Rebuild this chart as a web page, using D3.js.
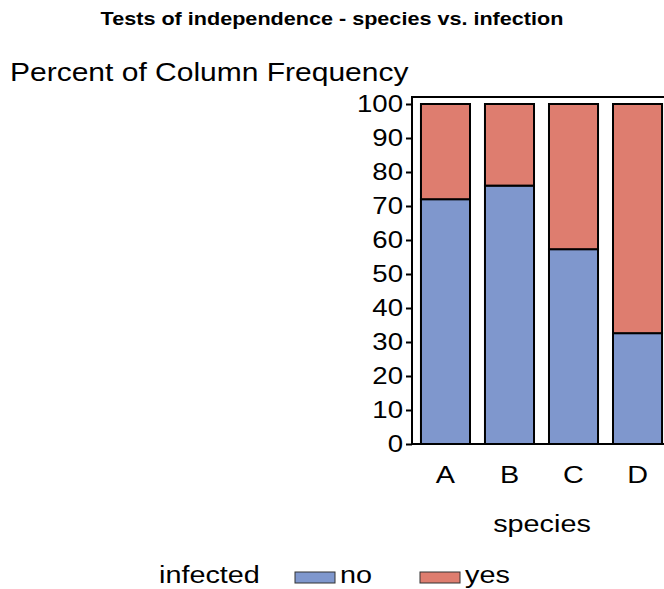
<!DOCTYPE html>
<html>
<head>
<meta charset="utf-8">
<script src="https://cdn.jsdelivr.net/npm/d3@7"></script>
<style>
  body { margin: 0; background: #fff; }
  svg { display: block; font-family: Arial, "Liberation Sans", sans-serif; }
</style>
</head>
<body>
<div id="chart"></div>
<script>
// species categories and stacked percentages (column percent)
const species = ["A", "B", "C", "D"];
const pctNo = [72, 76, 57.3, 32.6];
const pctYes = species.map((s, i) => 100 - pctNo[i]);
const yTicks = [0, 10, 20, 30, 40, 50, 60, 70, 80, 90, 100];
const groups = ["no", "yes"];

const colors = { no: "#7F97CD", yes: "#DE7D6F" };

// the original render is a bit wider than tall, text is stretched sideways
const SX = 1.2;

const W = 664, H = 589;
const svg = d3.select("#chart").append("svg")
  .attr("width", W)
  .attr("height", H);

// plot area
const plot = { left: 412, right: 671, top: 97, bottom: 444 };

const x = d3.scaleBand()
  .domain(species)
  .range([plot.left, plot.right])
  .paddingInner(0.234)
  .paddingOuter(0.14);

const y = d3.scaleLinear()
  .domain([0, 100])
  .range([plot.bottom, 104]);

// text helper with horizontal stretch
function label(px, py, txt, size, anchor = "start", bold = false) {
  return svg.append("text")
    .attr("transform", `translate(${px},${py}) scale(${SX},1)`)
    .attr("text-anchor", anchor)
    .style("font-size", size + "px")
    .style("font-weight", bold ? "bold" : "normal")
    .text(txt);
}

// title
label(332, 25, "Tests of independence - species vs. infection", 18, "middle", true);

// y label (horizontal, above axis)
label(10, 81, "Percent of Column Frequency", 25);

// stacked bars
const rows = species.map((s, i) => ({ species: s, no: pctNo[i], yes: pctYes[i] }));
const stack = d3.stack().keys(groups)(rows);

svg.append("g")
  .selectAll("g")
  .data(stack)
  .join("g")
  .attr("fill", d => colors[d.key])
  .selectAll("rect")
  .data(d => d)
  .join("rect")
  .attr("x", d => x(d.data.species))
  .attr("width", x.bandwidth())
  .attr("y", d => y(d[1]))
  .attr("height", d => y(d[0]) - y(d[1]))
  .attr("stroke", "#000")
  .attr("stroke-width", 2);

// frame
svg.append("rect")
  .attr("x", plot.left)
  .attr("y", plot.top)
  .attr("width", plot.right - plot.left)
  .attr("height", plot.bottom - plot.top)
  .attr("fill", "none")
  .attr("stroke", "#000")
  .attr("stroke-width", 2);

// y axis
const yAxis = svg.append("g")
  .attr("transform", `translate(${plot.left},0)`)
  .call(d3.axisLeft(y).tickValues(yTicks).tickSize(6).tickPadding(3));
yAxis.select(".domain").remove();
yAxis.selectAll("line").attr("stroke", "#000").attr("stroke-width", 2);
yAxis.selectAll("text")
  .style("font-size", "23px")
  .attr("fill", "#000")
  .attr("font-family", "Arial, 'Liberation Sans', sans-serif")
  .attr("x", -9 / SX)
  .attr("transform", `scale(${SX},1)`);

// x axis (labels only)
const xAxis = svg.append("g")
  .attr("transform", `translate(0,${plot.bottom})`)
  .call(d3.axisBottom(x).tickSize(0).tickPadding(22));
xAxis.select(".domain").remove();
xAxis.selectAll("text")
  .style("font-size", "24px")
  .attr("fill", "#000")
  .attr("font-family", "Arial, 'Liberation Sans', sans-serif")
  .attr("transform", `scale(${SX},1)`);

label(542, 532, "species", 24, "middle");

// legend
label(159, 583, "infected", 24);

const legendItems = [
  { key: "no", x: 295 },
  { key: "yes", x: 420 }
];
legendItems.forEach(d => {
  svg.append("rect")
    .attr("x", d.x)
    .attr("y", 572)
    .attr("width", 40)
    .attr("height", 11)
    .attr("fill", colors[d.key])
    .attr("stroke", "#333")
    .attr("stroke-width", 1);
  label(d.x + 45, 583, d.key, 24);
});
</script>
</body>
</html>
